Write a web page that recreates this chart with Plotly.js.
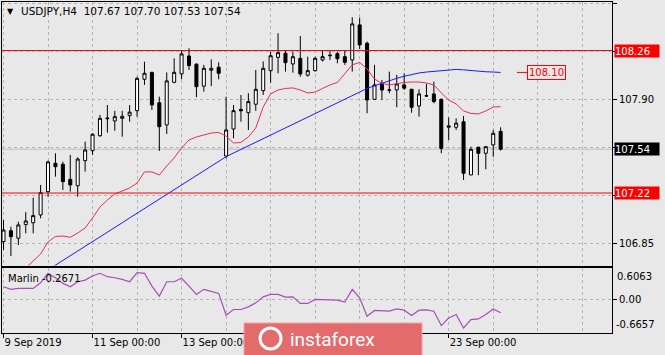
<!DOCTYPE html>
<html><head><meta charset="utf-8">
<script src="https://cdn.plot.ly/plotly-3.0.1.min.js"></script>
<style>html,body{margin:0;padding:0;background:#e8e8e8;overflow:hidden}#chart{width:665px;height:355px}</style>
</head><body><div id="chart"></div>
<script>
// ---- data (USDJPY H4, 9-24 Sep 2019) ----
const symbol = "USDJPY,H4";
const openP  = [106.865,106.945,106.890,106.990,107.003,107.060,107.230,107.437,107.430,107.320,107.273,107.456,107.529,107.638,107.762,107.746,107.765,107.785,107.821,108.050,108.100,107.879,107.717,108.028,108.089,108.220,108.160,108.000,108.116,108.138,107.490,107.687,107.830,107.806,107.868,107.967,108.113,108.210,108.240,108.162,108.203,108.080,108.113,108.191,108.222,108.237,108.215,108.191,108.447,108.313,107.904,108.016,107.970,107.972,108.009,107.977,107.855,107.930,107.943,107.904,107.700,107.700,107.740,107.352,107.554,107.510,107.571,107.670];
const highP  = [107.023,106.974,107.010,107.080,107.186,107.279,107.456,107.510,107.449,107.498,107.480,107.595,107.656,107.790,107.862,107.820,107.820,107.862,108.069,108.178,108.106,107.923,108.100,108.203,108.259,108.276,108.167,108.155,108.196,108.174,107.923,107.862,107.935,107.948,108.118,108.180,108.252,108.386,108.259,108.252,108.366,108.215,108.215,108.259,108.259,108.252,108.259,108.503,108.500,108.325,108.155,108.045,108.106,108.082,108.094,107.980,107.977,108.016,108.033,107.910,107.772,107.765,107.782,107.558,107.558,107.563,107.680,107.700];
const lowP   = [106.804,106.760,106.840,106.926,106.926,107.035,107.193,107.339,107.242,107.230,107.193,107.376,107.498,107.631,107.660,107.675,107.631,107.740,107.777,108.009,107.826,107.527,107.651,108.021,108.050,108.118,107.919,107.960,108.000,108.050,107.473,107.620,107.740,107.680,107.820,107.936,108.025,108.094,108.106,108.098,108.069,108.069,108.106,108.180,108.191,108.167,108.155,108.106,108.270,107.802,107.899,107.899,107.948,107.846,107.972,107.806,107.777,107.920,107.875,107.510,107.607,107.680,107.315,107.350,107.350,107.393,107.485,107.530];
const closeP = [106.950,106.901,106.987,107.016,107.055,107.223,107.447,107.412,107.303,107.279,107.468,107.534,107.649,107.765,107.766,107.777,107.780,107.810,108.057,108.094,107.863,107.704,108.038,108.101,108.235,108.150,107.996,108.130,108.130,108.094,107.680,107.821,107.820,107.887,107.977,108.130,108.222,108.244,108.171,108.215,108.089,108.113,108.203,108.215,108.225,108.200,108.174,108.454,108.301,107.899,108.009,107.972,107.972,108.016,107.985,107.846,107.943,107.928,107.887,107.546,107.710,107.730,107.364,107.539,107.510,107.558,107.656,107.540];
const maRed  = [106.550,106.585,106.620,106.673,106.724,106.775,106.863,106.903,106.906,106.897,106.928,106.965,107.038,107.118,107.169,107.213,107.235,107.257,107.293,107.374,107.374,107.352,107.417,107.476,107.549,107.607,107.629,107.644,107.658,107.662,107.636,107.585,107.589,107.629,107.695,107.848,107.943,107.972,107.983,107.987,107.972,107.950,107.957,107.983,108.009,108.027,108.089,108.155,108.173,108.125,108.052,108.020,108.009,108.020,108.027,108.030,108.030,108.023,108.009,107.950,107.899,107.870,107.819,107.801,107.797,107.819,107.848,107.850];
const maBlue = [106.453,106.487,106.522,106.557,106.591,106.625,106.660,106.694,106.729,106.763,106.798,106.831,106.865,106.900,106.935,106.969,107.003,107.038,107.072,107.107,107.141,107.176,107.210,107.244,107.279,107.313,107.347,107.382,107.417,107.451,107.485,107.512,107.538,107.564,107.590,107.617,107.643,107.669,107.695,107.722,107.748,107.774,107.800,107.827,107.853,107.879,107.906,107.932,107.958,107.983,108.003,108.022,108.041,108.057,108.072,108.086,108.096,108.103,108.109,108.114,108.119,108.122,108.119,108.113,108.108,108.105,108.103,108.100];
const marlin = [0.243,0.192,0.211,0.211,0.211,0.322,0.508,0.421,0.310,0.243,0.342,0.375,0.455,0.508,0.441,0.421,0.389,0.342,0.520,0.508,0.257,0.059,0.342,0.342,0.409,0.257,0.093,0.192,0.158,0.113,-0.316,-0.204,-0.204,-0.152,-0.073,0.045,0.093,0.093,0.040,0.045,-0.085,-0.085,-0.006,-0.006,-0.006,-0.020,-0.059,0.192,0.026,-0.336,-0.223,-0.237,-0.237,-0.192,-0.217,-0.322,-0.217,-0.211,-0.237,-0.520,-0.370,-0.302,-0.567,-0.401,-0.389,-0.302,-0.192,-0.2671];
const dateTickIdx = [0, 12, 24, 36, 48, 60];
const dateTickText = ["9 Sep 2019", "11 Sep 00:00", "13 Sep 00:00", "17 Sep 00:00", "19 Sep 00:00", "23 Sep 00:00"];
const hiddenByWatermark = [36, 48];   // labels that the watermark covers in the reference
const priceTicks = [108.60, 108.25, 107.90, 107.55, 107.20, 106.85];
const priceTickText = ["108.60", "", "107.90", "", "", "106.85"];
const levelLines = [108.26, 107.22];
const bidPrice = 107.54;
const maLabelPrice = 108.10;
const marlinMax = 0.6063, marlinMin = -0.6657;

// ---- drawing ----
const bars = closeP.map((_, i) => i);
const last = closeP.length - 1;
const F = 'DejaVu Sans, Tahoma, sans-serif';
const GRID = '#b5b5b5';
const xRange = [-0.202, 82.008];
const shownDateText = dateTickText.map((t, k) => hiddenByWatermark.includes(dateTickIdx[k]) ? '' : t);

const traces = [
  {type:'candlestick', x:bars, open:openP, high:highP, low:lowP, close:closeP,
   xaxis:'x', yaxis:'y', whiskerwidth:0,
   increasing:{line:{color:'#000000', width:1}, fillcolor:'#ffffff'},
   decreasing:{line:{color:'#000000', width:1}, fillcolor:'#000000'}, hoverinfo:'skip'},
  {type:'scatter', mode:'lines', x:bars, y:maRed, xaxis:'x', yaxis:'y', line:{color:'#e3304f', width:1}, hoverinfo:'skip'},
  {type:'scatter', mode:'lines', x:bars, y:maBlue, xaxis:'x', yaxis:'y', line:{color:'#1a1aff', width:1}, hoverinfo:'skip'},
  {type:'scatter', mode:'lines', x:bars, y:marlin, xaxis:'x2', yaxis:'y2', line:{color:'#a84db8', width:1.2}, hoverinfo:'skip'}
];

const labelBox = (v, bg) => ({xref:'paper', x:1, xanchor:'left', xshift:2, yref:'y', y:v, yanchor:'middle',
  text:v.toFixed(2), showarrow:false, bgcolor:bg, font:{family:F, size:10, color:'#ffffff'},
  width:44, height:12, align:'left', borderpad:0});

const layout = {
  width:665, height:355,
  margin:{l:2, r:53, t:2, b:22},
  paper_bgcolor:'#e8e8e8', plot_bgcolor:'#e8e8e8',
  showlegend:false, boxgap:0.42,
  font:{family:F, size:10, color:'#000'},
  xaxis:{domain:[0,1], anchor:'y', range:xRange, tickmode:'linear', tick0:0, dtick:6,
    showticklabels:false, ticks:'', showgrid:true, gridcolor:GRID, griddash:'3px,3px', gridwidth:1,
    zeroline:false, showline:true, mirror:true, linecolor:'#000', linewidth:1,
    rangeslider:{visible:false}, fixedrange:true},
  yaxis:{domain:[0.2039,1], anchor:'x', range:[106.691,108.614], side:'right',
    tickmode:'array', tickvals:priceTicks, ticktext:priceTickText,
    ticks:'outside', ticklen:4, tickcolor:'#000', tickfont:{family:F, size:10, color:'#000'},
    showgrid:true, gridcolor:GRID, griddash:'3px,3px', gridwidth:1,
    zeroline:false, showline:true, mirror:true, linecolor:'#000', linewidth:1, fixedrange:true},
  xaxis2:{domain:[0,1], anchor:'y2', range:xRange, tickmode:'array', tickvals:dateTickIdx, ticktext:shownDateText,
    ticks:'outside', ticklen:4, tickcolor:'#000', ticklabelposition:'outside right',
    tickfont:{family:F, size:10, color:'#000'},
    showgrid:true, gridcolor:GRID, griddash:'3px,3px', gridwidth:1,
    minor:{tickmode:'linear', tick0:0, dtick:6, showgrid:true, gridcolor:GRID, griddash:'3px,3px', gridwidth:1, ticks:''},
    zeroline:false, showline:true, mirror:true, linecolor:'#000', linewidth:1, fixedrange:true},
  yaxis2:{domain:[0,0.1955], anchor:'x2', range:[marlinMin, marlinMax], side:'right',
    tickmode:'array', tickvals:[0], ticktext:['0.00'], ticks:'outside', ticklen:4, tickcolor:'#000',
    tickfont:{family:F, size:10, color:'#000'},
    showgrid:true, gridcolor:GRID, griddash:'3px,3px', gridwidth:1,
    zeroline:false, showline:true, mirror:true, linecolor:'#000', linewidth:1, fixedrange:true},
  shapes:[
    {type:'line', xref:'x domain', x0:0, x1:1, yref:'y', y0:bidPrice, y1:bidPrice, line:{color:'#bdbdbd', width:1}, layer:'below'},
    ...levelLines.map(v => ({type:'line', xref:'x domain', x0:0, x1:1, yref:'y', y0:v, y1:v, line:{color:'#ff0000', width:1}, layer:'above'})),
    {type:'line', xref:'x', x0:69.2, x1:70.6, yref:'y', y0:maLabelPrice, y1:maLabelPrice, line:{color:'#ff0000', width:1}},
    // watermark
    {type:'rect', xref:'paper', yref:'paper', x0:0.3967, x1:0.6885, y0:-0.075, y1:0.0302,
     fillcolor:'#e36b6b', line:{color:'#f2a3a3', width:1}, layer:'above'},
    {type:'circle', xref:'paper', yref:'paper', x0:0.4230, x1:0.4574, y0:-0.0483, y1:0.0151,
     line:{color:'#ffffff', width:3}, layer:'above'}
  ],
  annotations:[
    {xref:'paper', yref:'paper', x:0, y:1, xanchor:'left', yanchor:'top', xshift:3, yshift:-3,
     text:'\u25BC', showarrow:false, font:{family:F, size:8, color:'#000'}},
    {xref:'paper', yref:'paper', x:0, y:1, xanchor:'left', yanchor:'top', xshift:17, yshift:-1,
     text: symbol + '\u00a0\u00a0' + [openP[last], highP[last], lowP[last], closeP[last]].map(v => v.toFixed(2)).join(' '),
     showarrow:false, font:{family:F, size:10.5, color:'#000'}},
    {xref:'paper', yref:'y2', x:0, y:marlinMax, xanchor:'left', yanchor:'top', xshift:4, yshift:-3,
     text:'Marlin ' + marlin[last].toFixed(4), showarrow:false, font:{family:F, size:10, color:'#000'}},
    {xref:'paper', yref:'y2', x:1, y:marlinMax, xanchor:'left', yanchor:'top', xshift:3, yshift:-1,
     text:marlinMax.toFixed(4), showarrow:false, font:{family:F, size:10, color:'#000'}},
    {xref:'paper', yref:'y2', x:1, y:marlinMin, xanchor:'left', yanchor:'bottom', xshift:2, yshift:1,
     text:marlinMin.toFixed(4), showarrow:false, font:{family:F, size:10, color:'#000'}},
    labelBox(levelLines[0], '#ff0000'),
    labelBox(bidPrice, '#000000'),
    labelBox(levelLines[1], '#ff0000'),
    {xref:'x', yref:'y', x:70.6, y:maLabelPrice, xanchor:'left', yanchor:'middle',
     text:maLabelPrice.toFixed(2), showarrow:false, bgcolor:'#e8e8e8', bordercolor:'#ff0000', borderwidth:1, borderpad:1,
     font:{family:F, size:10, color:'#ff0000'}},
    {xref:'paper', yref:'paper', x:0.4689, y:-0.019, xanchor:'left', yanchor:'middle',
     text:'instaforex', showarrow:false, font:{family:'Roboto, sans-serif', size:19, color:'#ffffff'}}
  ]
};

Plotly.newPlot('chart', traces, layout, {staticPlot:true, displayModeBar:false});
</script>
</body></html>
